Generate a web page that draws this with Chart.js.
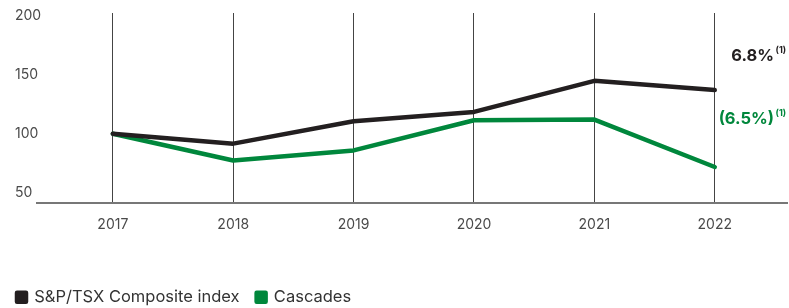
<!DOCTYPE html>
<html>
<head>
<meta charset="utf-8">
<script src="https://cdn.jsdelivr.net/npm/chart.js@4"></script>
<style>
  html, body { margin:0; padding:0; background:#fff; }
  #wrap { width:789px; height:308px; position:relative; }
</style>
</head>
<body>
<div id="wrap"><canvas id="perfChart"></canvas></div>
<script>
// values (indexed to 100 in 2017)
const years     = [2017, 2018, 2019, 2020, 2021, 2022];
const tsxIndex  = [100, 91.7, 110.6, 118.5, 144.7, 137];
const cascades  = [100, 77.5, 86, 111.4, 112, 72];
const yTicks    = [50, 100, 150, 200];
const seriesNames = ['S&P/TSX Composite index', 'Cascades'];
const cagrLabels  = ['6.8%', '(6.5%)'];

const BLACK = '#231f20';
const GREEN = '#00873c';
const FONT  = 'Inter, "Noto Sans", sans-serif';

const toPts = arr => arr.map((v, i) => ({ x: years[i], y: v }));

// legend box is bottom anchored: force its height so items sit where we want
const legendFit = {
  id: 'legendFit',
  afterInit(chart) {
    const lg = chart.legend;
    if (!lg) return;
    const orig = lg.fit;
    lg.fit = function () { orig.call(this); this.height = 36; };
  },
  afterLayout(chart) {
    // y labels are left aligned at x=15 while the plot starts at 37
    const y = chart.scales.y;
    y.left = 15;
    y.right = 50; // only widens the label clip box
  }
};

// CAGR notes at the right edge
const cagrNotes = {
  id: 'cagrNotes',
  afterDraw(chart) {
    const { ctx, chartArea } = chart;
    const right = chartArea.right - 13;
    const notes = [
      { text: cagrLabels[0], color: BLACK, y: 61 },
      { text: cagrLabels[1], color: GREEN, y: 124 },
    ];
    ctx.save();
    notes.forEach(n => {
      ctx.fillStyle = n.color;
      ctx.textBaseline = 'alphabetic';
      ctx.textAlign = 'right';
      ctx.font = 'bold 16.5px ' + FONT;
      ctx.fillText(n.text, right, n.y);
      ctx.textAlign = 'left';
      ctx.font = 'bold 9px ' + FONT;
      ctx.fillText('(1)', right + 1.5, n.y - 8);
    });
    ctx.restore();
  }
};

new Chart(document.getElementById('perfChart'), {
  type: 'line',
  data: {
    datasets: [
      { label: seriesNames[0], data: toPts(tsxIndex), borderColor: BLACK, backgroundColor: BLACK,
        borderWidth: 4.5, pointRadius: 0, tension: 0, borderCapStyle: 'round', borderJoinStyle: 'round' },
      { label: seriesNames[1], data: toPts(cascades), borderColor: GREEN, backgroundColor: GREEN,
        borderWidth: 4.5, pointRadius: 0, tension: 0, borderCapStyle: 'round', borderJoinStyle: 'round' },
    ],
  },
  options: {
    responsive: true,
    maintainAspectRatio: false,
    animation: false,
    layout: { padding: { top: 13, right: 2, left: 0, bottom: 0 } },
    plugins: {
      legend: {
        position: 'bottom',
        align: 'start',
        labels: {
          boxWidth: 9, boxHeight: 9, padding: 17,
          color: '#333', font: { family: FONT, size: 16.5 },
        },
      },
      tooltip: { enabled: false },
    },
    scales: {
      x: {
        type: 'linear',
        min: 2016.37, max: 2022.6,
        afterBuildTicks: s => { s.ticks = years.map(v => ({ value: v })); },
        afterFit: s => { s.height = 69.5; },
        grid: { display: true, color: '#444', lineWidth: 1, drawTicks: false },
        border: { display: true, color: '#777', width: 2 },
        ticks: { padding: 14, color: '#4a4a4a', font: { family: FONT, size: 14 }, callback: v => String(v) },
      },
      y: {
        min: 42, max: 202,
        afterBuildTicks: s => { s.ticks = yTicks.map(v => ({ value: v })); },
        afterFit: s => { s.width = 37; },
        grid: { display: false },
        border: { display: false },
        ticks: { crossAlign: 'far', color: '#4a4a4a', font: { family: FONT, size: 14 } },
      },
    },
  },
  plugins: [legendFit, cagrNotes],
});
</script>
</body>
</html>
